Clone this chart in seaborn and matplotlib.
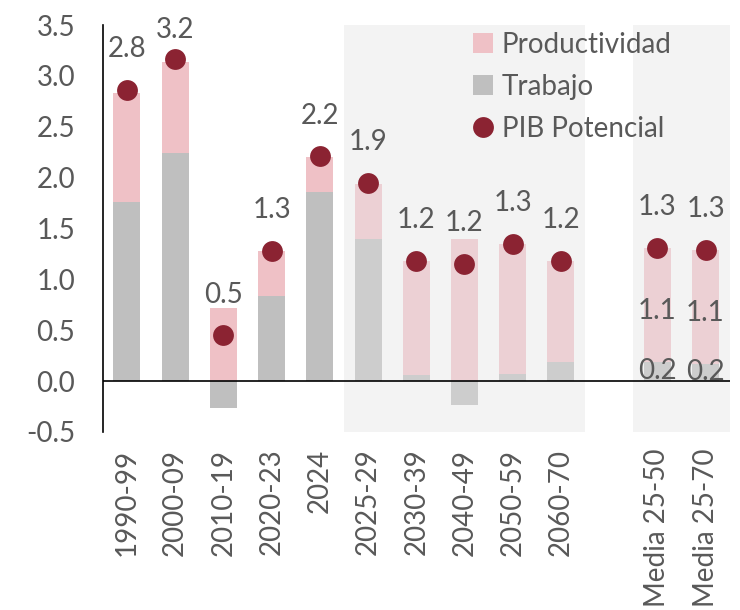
import numpy as np
import pandas as pd
import matplotlib
matplotlib.use("Agg")
import matplotlib.pyplot as plt
import seaborn as sns
from matplotlib.lines import Line2D
from matplotlib.patches import Patch

categories = ["1990-99", "2000-09", "2010-19", "2020-23", "2024", "2025-29",
              "2030-39", "2040-49", "2050-59", "2060-70", " ", "Media 25-50", "Media 25-70"]
trabajo = [1.76, 2.24, -0.27, 0.84, 1.86, 1.40, 0.06, -0.24, 0.07, 0.19, np.nan, 0.19, 0.17]
productividad = [1.07, 0.90, 0.72, 0.44, 0.34, 0.54, 1.12, 1.40, 1.28, 0.99, np.nan, 1.12, 1.12]
pib = [2.86, 3.17, 0.45, 1.28, 2.21, 1.95, 1.18, 1.15, 1.35, 1.18, np.nan, 1.31, 1.29]
pib_labels = ["2.8", "3.2", "0.5", "1.3", "2.2", "1.9", "1.2", "1.2", "1.3", "1.2", "", "1.3", "1.3"]
prod_labels = ["", "", "", "", "", "", "", "", "", "", "", "1.1", "1.1"]
trab_labels = ["", "", "", "", "", "", "", "", "", "", "", "0.2", "0.2"]
yticks = [-0.5, 0.0, 0.5, 1.0, 1.5, 2.0, 2.5, 3.0, 3.5]

df = pd.DataFrame({"cat": categories, "trabajo": trabajo,
                   "productividad": productividad, "pib": pib})
df["top"] = df["trabajo"].clip(lower=0) + df["productividad"]

sns.set_style("white")
plt.rcParams["font.family"] = ["Lato", "DejaVu Sans"]
TXT = "#595959"
DOT = "#8b2332"
FS = 20

fig = plt.figure(figsize=(7.4, 6.1), dpi=100)
ax = fig.add_axes([0.139, 0.292, 0.847, 0.667])

# shaded projection regions
ax.axvspan(4.5, 9.5, color="#f3f3f3", zorder=0, lw=0)
ax.axvspan(10.5, 12.5, color="#f3f3f3", zorder=0, lw=0)

future = [c.startswith("20") and int(c[:4]) >= 2025 or c.startswith("Media") for c in categories]
pink = ["#ecd0d4" if f else "#efc1c6" for f in future]
grey = ["#cdcdcd" if f else "#bfbfbf" for f in future]

sns.barplot(data=df, x="cat", y="top", order=categories, hue="cat",
            palette=dict(zip(categories, pink)), legend=False,
            width=0.56, ax=ax, zorder=2, saturation=1, linewidth=0)
sns.barplot(data=df, x="cat", y="trabajo", order=categories, hue="cat",
            palette=dict(zip(categories, grey)), legend=False,
            width=0.56, ax=ax, zorder=3, saturation=1, linewidth=0)
sns.stripplot(data=df, x="cat", y="pib", order=categories, jitter=False,
              color=DOT, size=15, ax=ax, zorder=5, linewidth=0)

ax.axhline(0, color="black", lw=1.2, zorder=4)

for i, c in enumerate(categories):
    if pib_labels[i]:
        ax.text(i, min(pib[i] + 0.4, 3.45), pib_labels[i], ha="center", va="center",
                fontsize=FS, color=TXT, zorder=6)
    if prod_labels[i]:
        ax.text(i, trabajo[i] + productividad[i] / 2 - 0.06, prod_labels[i], ha="center",
                va="center", fontsize=FS, color=TXT, zorder=6)
    if trab_labels[i]:
        ax.text(i, trabajo[i] / 2, trab_labels[i], ha="center", va="center",
                fontsize=FS, color=TXT, zorder=6)

ax.set_xlim(-0.5, 12.5)
ax.set_ylim(-0.5, 3.5)
ax.set_yticks(yticks)
ax.set_yticklabels([f"{v:.1f}" for v in yticks])
ax.set_xlabel("")
ax.set_ylabel("")
ax.tick_params(axis="y", length=0, pad=20, labelsize=FS, labelcolor=TXT)
ax.tick_params(axis="x", length=0, pad=12, labelsize=FS, labelcolor=TXT)
for lab in ax.get_xticklabels():
    lab.set_rotation(90)
    lab.set_va("top")
    lab.set_ha("center")

for s in ["top", "right", "bottom"]:
    ax.spines[s].set_visible(False)
ax.spines["left"].set_color("black")
ax.spines["left"].set_linewidth(1.2)

handles = [Patch(facecolor="#efc1c6", edgecolor="none", label="Productividad"),
           Patch(facecolor="#bfbfbf", edgecolor="none", label="Trabajo"),
           Line2D([], [], marker="o", color="none", markerfacecolor=DOT,
                  markeredgecolor="none", markersize=15, label="PIB Potencial")]
leg = ax.legend(handles=handles, loc="upper left", bbox_to_anchor=(0.55, 1.045),
                frameon=False, fontsize=FS, labelcolor=TXT, handlelength=0.75,
                handleheight=0.75, handletextpad=0.3, labelspacing=0.58)

fig.savefig("out.png", dpi=100)
